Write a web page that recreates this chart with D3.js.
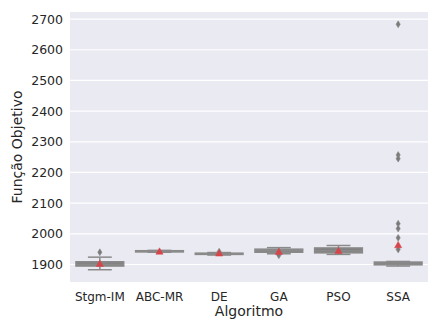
<!DOCTYPE html>
<html>
<head>
<meta charset="utf-8">
<script src="https://cdn.jsdelivr.net/npm/d3@7"></script>
<style>
  html, body { margin: 0; padding: 0; background: #ffffff; }
  svg { display: block; }
  text { font-family: "DejaVu Sans", sans-serif; fill: #262626; }
</style>
</head>
<body>
<svg id="chart" width="429" height="320"></svg>
<script>
// ---- data ----
const categories = ["Stgm-IM", "ABC-MR", "DE", "GA", "PSO", "SSA"];
const lowerWhisker = [1883, 1940, 1931, 1935, 1933, 1895];
const q1Values     = [1895, 1941, 1933, 1940, 1938, 1899];
const medianValues = [1900, 1943, 1935, 1945, 1945, 1902];
const q3Values     = [1909, 1945, 1937, 1950, 1954, 1908];
const upperWhisker = [1924, 1946, 1939, 1955, 1962, 1910];
const meanValues   = [1902, 1942, 1936, 1941, 1944, 1963];
const outlierValues = [
  [1940],
  [],
  [1942],
  [1930],
  [],
  [2683, 2257, 2245, 2033, 2017, 1987, 1949]
];
const yTicks = [1900, 2000, 2100, 2200, 2300, 2400, 2500, 2600, 2700];
const xTitle = "Algoritmo";
const yTitle = "Função Objetivo";

// ---- layout ----
const svg = d3.select("#chart");
const margin = {left: 70, right: 1, top: 12, bottom: 38};
const W = 429, H = 320;
const plotW = W - margin.left - margin.right;
const plotH = H - margin.top - margin.bottom;

const allVals = lowerWhisker.concat(upperWhisker, outlierValues.flat());
const vmin = d3.min(allVals), vmax = d3.max(allVals);
const pad = (vmax - vmin) * 0.05;

const x = d3.scaleBand().domain(categories).range([0, plotW]).paddingInner(0).paddingOuter(0);
const y = d3.scaleLinear().domain([vmin - pad, vmax + pad]).range([plotH, 0]);

const g = svg.append("g").attr("transform", `translate(${margin.left},${margin.top})`);

g.append("rect").attr("width", plotW).attr("height", plotH).attr("fill", "#eaeaf2");

// grid
g.append("g").selectAll("line").data(yTicks).join("line")
  .attr("x1", 0).attr("x2", plotW)
  .attr("y1", d => y(d)).attr("y2", d => y(d))
  .attr("stroke", "#ffffff").attr("stroke-width", 1.2);

// axes
const yAxis = d3.axisLeft(y).tickValues(yTicks).tickSize(0).tickPadding(7).tickFormat(d3.format("d"));
const ya = g.append("g").call(yAxis);
ya.select(".domain").remove();
ya.selectAll("text").style("font-size", "12.5px").attr("fill", "#262626");

const xAxis = d3.axisBottom(x).tickSize(0).tickPadding(10);
const xa = g.append("g").attr("transform", `translate(0,${plotH})`).call(xAxis);
xa.select(".domain").remove();
xa.selectAll("text").style("font-size", "12px").attr("fill", "#262626");

// titles
svg.append("text").attr("x", margin.left + plotW / 2).attr("y", 316)
  .attr("text-anchor", "middle").style("font-size", "14px").text(xTitle);
svg.append("text").attr("transform", `translate(22,${margin.top + plotH / 2}) rotate(-90)`)
  .attr("text-anchor", "middle").style("font-size", "14px").text(yTitle);

// boxes
const boxColor = "#808080", lineColor = "#8a8a8a";
const bw = x.bandwidth() * 0.8;
const lw = 1.5;
categories.forEach((c, i) => {
  const cx = x(c) + x.bandwidth() / 2;
  const bg = g.append("g");
  // whiskers
  bg.append("line").attr("x1", cx).attr("x2", cx)
    .attr("y1", y(q1Values[i])).attr("y2", y(lowerWhisker[i]))
    .attr("stroke", lineColor).attr("stroke-width", lw);
  bg.append("line").attr("x1", cx).attr("x2", cx)
    .attr("y1", y(q3Values[i])).attr("y2", y(upperWhisker[i]))
    .attr("stroke", lineColor).attr("stroke-width", lw);
  // box
  bg.append("rect").attr("x", cx - bw / 2).attr("width", bw)
    .attr("y", y(q3Values[i])).attr("height", Math.max(0.5, y(q1Values[i]) - y(q3Values[i])))
    .attr("fill", boxColor).attr("stroke", lineColor).attr("stroke-width", lw);
  // caps
  [lowerWhisker[i], upperWhisker[i]].forEach(v => {
    bg.append("line").attr("x1", cx - bw / 4).attr("x2", cx + bw / 4)
      .attr("y1", y(v)).attr("y2", y(v))
      .attr("stroke", lineColor).attr("stroke-width", lw);
  });
  // median
  bg.append("line").attr("x1", cx - bw / 2).attr("x2", cx + bw / 2)
    .attr("y1", y(medianValues[i])).attr("y2", y(medianValues[i]))
    .attr("stroke", lineColor).attr("stroke-width", lw);
  // outliers (thin diamonds)
  bg.selectAll("path.out").data(outlierValues[i]).join("path")
    .attr("class", "out")
    .attr("d", "M0,-3.4L2.1,0L0,3.4L-2.1,0Z")
    .attr("transform", d => `translate(${cx},${y(d)})`)
    .attr("fill", "#7a7a7a").attr("stroke", "#8a8a8a").attr("stroke-width", 0.6);
  // mean triangle
  bg.append("path")
    .attr("d", "M0,-3.8L3.6,2.6L-3.6,2.6Z")
    .attr("transform", `translate(${cx},${y(meanValues[i])})`)
    .attr("fill", "#d6454a").attr("stroke", "#d6454a").attr("stroke-width", 0.5);
});
</script>
</body>
</html>
